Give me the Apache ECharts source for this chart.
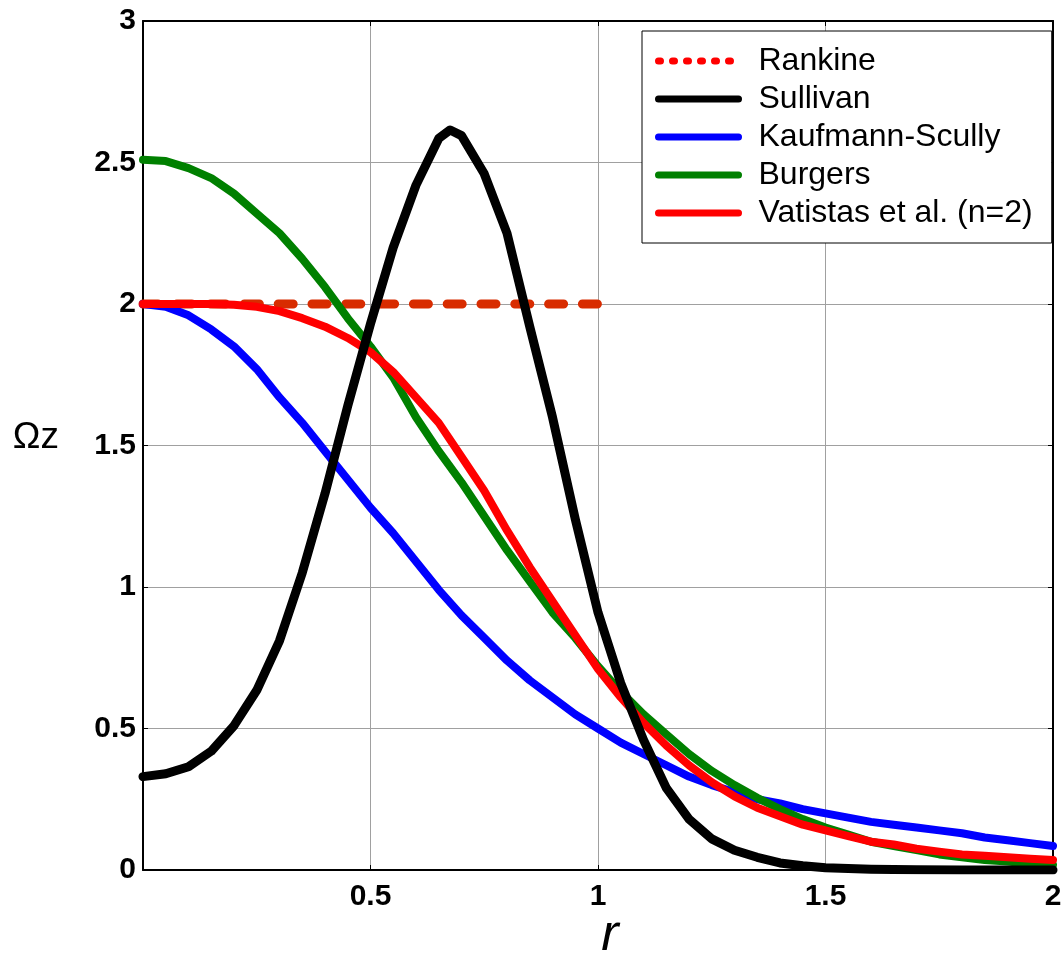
<!DOCTYPE html>
<html>
<head>
<meta charset="utf-8">
<script src="https://cdn.jsdelivr.net/npm/echarts@6/dist/echarts.min.js"></script>
<style>
  html, body { margin: 0; padding: 0; background: #fff; }
  #chart { width: 1063px; height: 961px; }
</style>
</head>
<body>
<div id="chart"></div>
<script>
// Radial sample points (r) shared by most profiles
const r = [0, 0.05, 0.1, 0.15, 0.2, 0.25, 0.3, 0.35, 0.4, 0.45, 0.5, 0.55, 0.6, 0.65, 0.7, 0.75, 0.8, 0.85, 0.9, 0.95,
           1.0, 1.05, 1.1, 1.15, 1.2, 1.25, 1.3, 1.35, 1.4, 1.45, 1.5, 1.55, 1.6, 1.65, 1.7, 1.75, 1.8, 1.85, 1.9, 1.95, 2.0];

// Rankine: solid-body core up to r = 1
const rankineR = [0, 1];
const rankineValues = [2, 2];

// Sullivan: off-axis vorticity peak
const sullivanR = [0, 0.05, 0.1, 0.15, 0.2, 0.25, 0.3, 0.35, 0.4, 0.45, 0.5, 0.55, 0.6, 0.65, 0.675, 0.7, 0.75, 0.8, 0.85, 0.9,
                   0.95, 1.0, 1.05, 1.1, 1.15, 1.2, 1.25, 1.3, 1.35, 1.4, 1.45, 1.5, 1.6, 1.7, 1.8, 1.9, 2.0];
const sullivanValues = [0.33, 0.34, 0.365, 0.42, 0.51, 0.635, 0.81, 1.05, 1.33, 1.64, 1.93, 2.20, 2.42, 2.585, 2.615, 2.595, 2.46, 2.25, 1.92, 1.60,
                        1.24, 0.91, 0.66, 0.46, 0.29, 0.18, 0.11, 0.07, 0.045, 0.025, 0.015, 0.008, 0.003, 0.001, 0, 0, 0];

const kaufmannValues = [2.0, 1.99, 1.96, 1.91, 1.85, 1.77, 1.67, 1.58, 1.48, 1.38, 1.28, 1.19, 1.09, 0.99, 0.90, 0.82, 0.74, 0.67, 0.61, 0.55,
                        0.50, 0.45, 0.41, 0.37, 0.33, 0.30, 0.275, 0.25, 0.235, 0.215, 0.20, 0.185, 0.17, 0.16, 0.15, 0.14, 0.13, 0.115, 0.105, 0.095, 0.085];

const burgersValues = [2.51, 2.505, 2.48, 2.445, 2.39, 2.32, 2.25, 2.16, 2.06, 1.95, 1.85, 1.74, 1.60, 1.48, 1.37, 1.25, 1.13, 1.02, 0.91, 0.82,
                       0.72, 0.63, 0.55, 0.48, 0.41, 0.35, 0.30, 0.255, 0.215, 0.18, 0.15, 0.125, 0.10, 0.085, 0.07, 0.055, 0.045, 0.035, 0.03, 0.022, 0.018];

const vatistasValues = [2.0, 2.0, 2.0, 2.0, 1.997, 1.99, 1.975, 1.95, 1.92, 1.88, 1.83, 1.76, 1.67, 1.58, 1.46, 1.34, 1.20, 1.07, 0.95, 0.83,
                        0.71, 0.61, 0.52, 0.44, 0.37, 0.31, 0.26, 0.22, 0.19, 0.16, 0.14, 0.12, 0.10, 0.09, 0.075, 0.065, 0.055, 0.05, 0.045, 0.04, 0.035];

const seriesNames = ['Rankine', 'Sullivan', 'Kaufmann-Scully', 'Burgers', 'Vatistas et al. (n=2)'];

const pairs = (xs, ys) => xs.map((x, i) => [x, ys[i]]);

const FONT = '"Liberation Sans", Arial, Helvetica, sans-serif';

const chart = echarts.init(document.getElementById('chart'), null, { renderer: 'canvas' });

// Plain frame axes (top / right) carrying only inward ticks
const frameAxis = {
  type: 'value',
  axisLine: { show: true, onZero: false, lineStyle: { color: '#000', width: 2 } },
  axisTick: { show: true, inside: true, length: 5, lineStyle: { color: '#000', width: 1 } },
  axisLabel: { show: false },
  splitLine: { show: false }
};

const lineSeries = (name, data, color, width, z, extra) => Object.assign({
  name: name,
  type: 'line',
  data: data,
  symbol: 'none',
  smooth: false,
  z: z,
  color: color,
  lineStyle: { color: color, width: width, cap: 'round', join: 'round' }
}, extra || {});

chart.setOption({
  animation: false,
  backgroundColor: '#fff',
  grid: { left: 143, right: 10, top: 21, bottom: 91, containLabel: false, outerBoundsMode: 'none' },
  xAxis: [
    {
      type: 'value', min: 0, max: 2, interval: 0.5, position: 'bottom',
      axisLine: { show: true, onZero: false, lineStyle: { color: '#000', width: 2 } },
      axisTick: { show: true, inside: true, length: 5, lineStyle: { color: '#000', width: 1 } },
      axisLabel: {
        showMinLabel: false, margin: 12, color: '#000',
        fontFamily: FONT, fontWeight: 'bold', fontSize: 30,
        formatter: v => String(v)
      },
      splitLine: { show: true, lineStyle: { color: '#a0a0a0', width: 1 } },
      name: 'r', nameLocation: 'middle', nameGap: 40, nameMoveOverlap: false,
      nameTextStyle: { fontFamily: FONT, fontStyle: 'italic', fontSize: 52, color: '#000', padding: [0, 0, 0, 24] }
    },
    Object.assign({ min: 0, max: 2, interval: 0.5, position: 'top' }, frameAxis)
  ],
  yAxis: [
    {
      type: 'value', min: 0, max: 3, interval: 0.5, position: 'left',
      axisLine: { show: true, onZero: false, lineStyle: { color: '#000', width: 2 } },
      axisTick: { show: true, inside: true, length: 5, lineStyle: { color: '#000', width: 1 } },
      axisLabel: {
        margin: 7, color: '#000',
        fontFamily: FONT, fontWeight: 'bold', fontSize: 30,
        formatter: v => String(v)
      },
      splitLine: { show: true, lineStyle: { color: '#a0a0a0', width: 1 } },
      name: 'Ωz', nameLocation: 'middle', nameRotate: 0, nameGap: 84, nameMoveOverlap: false,
      nameTextStyle: { fontFamily: FONT, fontSize: 37, color: '#000', verticalAlign: 'bottom', lineHeight: 16 }
    },
    Object.assign({ min: 0, max: 3, interval: 0.5, position: 'right' }, frameAxis)
  ],
  legend: {
    orient: 'vertical',
    left: 642, top: 31,
    padding: [14, 19, 14, 13],
    itemWidth: 80, itemHeight: 8, itemGap: 6,
    backgroundColor: '#fff', borderColor: '#000', borderWidth: 1, borderRadius: 0,
    selectedMode: false,
    textStyle: { fontFamily: FONT, fontSize: 32, color: '#000', lineHeight: 32, padding: [0, 0, 0, 15] },
    data: [
      { name: seriesNames[0], itemStyle: { opacity: 0 }, lineStyle: { color: '#ff0000', width: 7, type: [2, 12], cap: 'round' } },
      { name: seriesNames[1], itemStyle: { opacity: 0 }, lineStyle: { color: '#000000', width: 7, cap: 'round' } },
      { name: seriesNames[2], itemStyle: { opacity: 0 }, lineStyle: { color: '#0000ff', width: 7, cap: 'round' } },
      { name: seriesNames[3], itemStyle: { opacity: 0 }, lineStyle: { color: '#008000', width: 7, cap: 'round' } },
      { name: seriesNames[4], itemStyle: { opacity: 0 }, lineStyle: { color: '#ff0000', width: 7, cap: 'round' } }
    ]
  },
  series: [
    lineSeries(seriesNames[0], pairs(rankineR, rankineValues), '#d82c00', 9, 2,
      { lineStyle: { color: '#d82c00', width: 9, type: [15, 18.8], cap: 'round' } }),
    lineSeries(seriesNames[2], pairs(r, kaufmannValues), '#0000ff', 8, 3),
    lineSeries(seriesNames[3], pairs(r, burgersValues), '#008000', 8, 4),
    lineSeries(seriesNames[4], pairs(r, vatistasValues), '#ff0000', 8, 5),
    lineSeries(seriesNames[1], pairs(sullivanR, sullivanValues), '#000000', 9, 6)
  ]
});
</script>
</body>
</html>
